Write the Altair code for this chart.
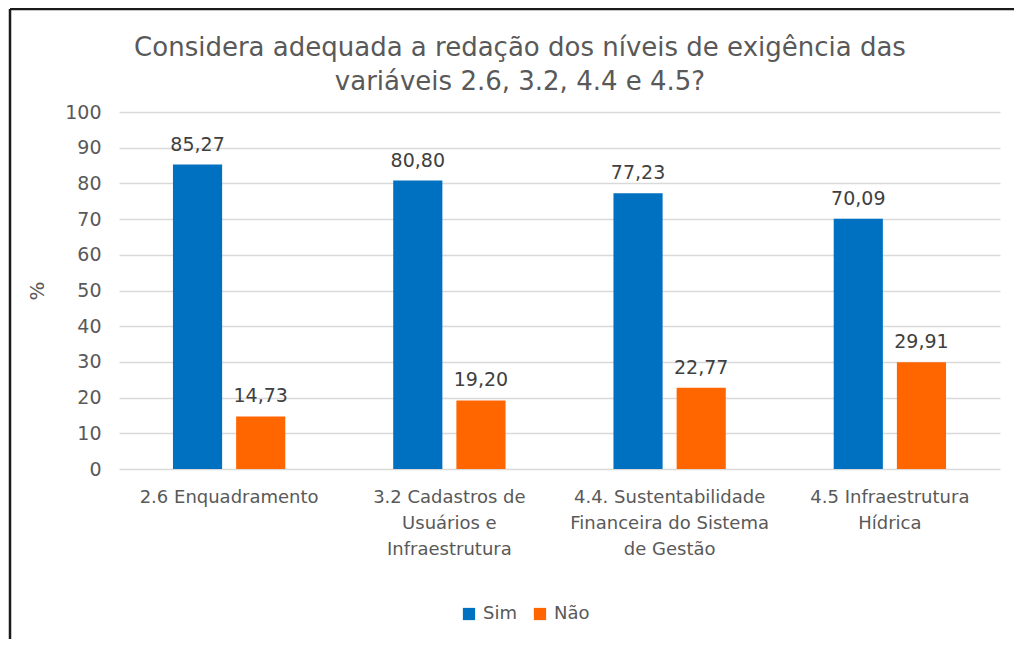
import altair as alt
import pandas as pd

categories = ["2.6 Enquadramento",
              "3.2 Cadastros de\nUsuários e\nInfraestrutura",
              "4.4. Sustentabilidade\nFinanceira do Sistema\nde Gestão",
              "4.5 Infraestrutura\nHídrica"]
series = ["Sim", "Não"]
sim_values = [85.27, 80.80, 77.23, 70.09]
nao_values = [14.73, 19.20, 22.77, 29.91]
y_ticks = [0, 10, 20, 30, 40, 50, 60, 70, 80, 90, 100]
colors = ["#0070C0", "#FF6600"]
title_lines = ["Considera adequada a redação dos níveis de exigência das",
               "variáveis 2.6, 3.2, 4.4 e 4.5?"]

rows = []
for c, s, n in zip(categories, sim_values, nao_values):
    rows.append({"cat": c, "serie": "Sim", "v": s})
    rows.append({"cat": c, "serie": "Não", "v": n})
df = pd.DataFrame(rows)

FONT = "DejaVu Sans"
TXT = "#595959"

base = alt.Chart(df).encode(
    x=alt.X("cat:N", sort=categories,
            scale=alt.Scale(paddingInner=0.49, paddingOuter=0.245),
            axis=alt.Axis(title=None, labelAngle=0, domain=False, ticks=False,
                          labelExpr="split(datum.label, '\\n')",
                          labelFontSize=18, labelColor=TXT, labelFont=FONT,
                          labelPadding=19, labelLineHeight=26, labelBaseline="top",
                          labelLimit=300)),
    xOffset=alt.XOffset("serie:N", sort=series,
                        scale=alt.Scale(paddingInner=0.222, paddingOuter=0)),
    y=alt.Y("v:Q", scale=alt.Scale(domain=[0, 100]),
            axis=alt.Axis(values=y_ticks, title="%", titleFontSize=20,
                          titleFontWeight="normal", titleColor=TXT, titleFont=FONT,
                          titlePadding=17, labelFontSize=19, labelColor=TXT,
                          labelFont=FONT, labelPadding=18, domain=False, ticks=False,
                          labelOverlap=False,
                          gridColor="#D9D9D9", gridWidth=1.5)),
)

bars = base.mark_bar().encode(
    color=alt.Color("serie:N", sort=series,
                    scale=alt.Scale(domain=series, range=colors),
                    legend=alt.Legend(title=None, orient="none", direction="horizontal",
                                      legendX=341, legendY=493,
                                      symbolType="square", symbolSize=150,
                                      symbolStrokeWidth=0,
                                      labelFontSize=18, labelColor=TXT, labelFont=FONT,
                                      columnPadding=14, labelOffset=5)),
)

labels = base.mark_text(baseline="bottom", dy=-10, fontSize=19, color="#404040",
                        font=FONT).transform_calculate(
    lab="replace(format(datum.v, '.2f'), '.', ',')"
).encode(text="lab:N")

frame_data = alt.Data(values=[{"k": 1}])
top_line = alt.Chart(frame_data).mark_rule(color="#1a1a1a", strokeWidth=2.5).encode(
    x=alt.value(-109), x2=alt.value(910), y=alt.value(-103))
left_line = alt.Chart(frame_data).mark_rule(color="#1a1a1a", strokeWidth=2.5).encode(
    x=alt.value(-109), y=alt.value(-103), y2=alt.value(540))

title = alt.Chart(frame_data).mark_text(
    fontSize=26, font=FONT, color=TXT, align="center", baseline="middle",
    lineHeight=34).encode(
    x=alt.value(401), y=alt.value(-64), text=alt.value(title_lines))

chart = alt.layer(bars, labels, top_line, left_line, title).properties(
    width=881, height=357,
    autosize=alt.AutoSizeParams(type="none"),
    padding={"left": 111, "top": 104, "right": 14, "bottom": 170},
).configure_view(stroke=None)

chart.save("out.html", embed_options={"renderer": "svg", "actions": False})
